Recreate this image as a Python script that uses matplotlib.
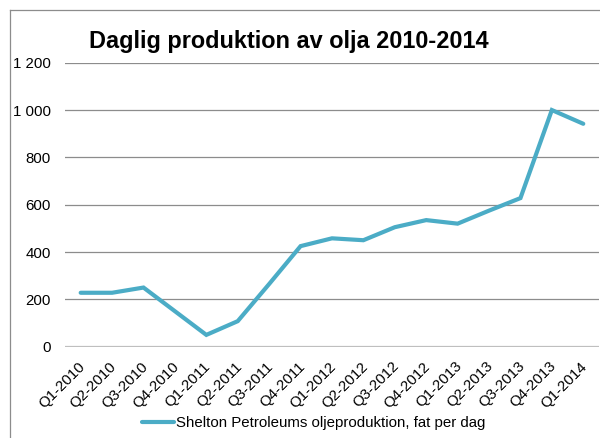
import matplotlib
matplotlib.use("Agg")
import matplotlib.pyplot as plt
import matplotlib.transforms as mtransforms
from matplotlib.lines import Line2D

categories = ["Q1-2010", "Q2-2010", "Q3-2010", "Q4-2010", "Q1-2011", "Q2-2011",
              "Q3-2011", "Q4-2011", "Q1-2012", "Q2-2012", "Q3-2012", "Q4-2012",
              "Q1-2013", "Q2-2013", "Q3-2013", "Q4-2013", "Q1-2014"]
production = [228, 228, 250, 150, 50, 108, 265, 425, 458, 450, 505, 535,
              520, 575, 628, 1000, 942]
yticks = [0, 200, 400, 600, 800, 1000, 1200]
ytick_labels = ["0", "200", "400", "600", "800", "1 000", "1 200"]
title = "Daglig produktion av olja 2010-2014"
series_label = "Shelton Petroleums oljeproduktion, fat per dag"

plt.rcParams['font.family'] = ['Liberation Sans', 'DejaVu Sans']
color = "#4BACC6"

fig = plt.figure(figsize=(6.0, 4.38), dpi=100)
ax = fig.add_axes([0.1083, 0.2084, 0.89, 0.6484])

x = list(range(len(categories)))
ax.plot(x, production, color=color, lw=3.0, solid_capstyle='round',
        solid_joinstyle='miter', zorder=3)

ax.set_xlim(-0.5, len(categories) - 0.5)
ax.set_ylim(0, 1200)
ax.set_yticks(yticks)
ax.set_yticklabels(ytick_labels, fontsize=10.8)
for yv in yticks[1:]:
    ax.axhline(yv, color="#8c8c8c", lw=0.9, zorder=1)
ax.axhline(0, color="#bfbfbf", lw=1.6, zorder=2)

ax.set_xticks(x)
ax.set_xticklabels(categories, fontsize=10.8, rotation=45, ha='right',
                   rotation_mode='anchor')
ax.tick_params(axis='x', length=0, pad=9)
ax.tick_params(axis='y', length=0, pad=10)
offset = mtransforms.ScaledTranslation(-3/100, 0, fig.dpi_scale_trans)
for lbl in ax.get_xticklabels():
    lbl.set_transform(lbl.get_transform() + offset)
for s in ax.spines.values():
    s.set_visible(False)

fig.text(0.4808, 0.905, title, fontsize=16.9, fontweight='bold',
         ha='center', va='center')

handle = Line2D([], [], color=color, lw=3.0, solid_capstyle='round')
fig.legend([handle], [series_label], loc='center', bbox_to_anchor=(0.523, 0.034),
           frameon=False, fontsize=10.8, handlelength=2.1, handletextpad=0.15)

# outer chart border (left and top visible)
fig.add_artist(Line2D([9.5/600, 9.5/600], [0, 1 - 9.5/438], color="#8c8c8c", lw=0.9,
                      transform=fig.transFigure))
fig.add_artist(Line2D([9.5/600, 1], [1 - 9.5/438, 1 - 9.5/438], color="#8c8c8c", lw=0.9,
                      transform=fig.transFigure))

fig.savefig("out.png", dpi=100)
